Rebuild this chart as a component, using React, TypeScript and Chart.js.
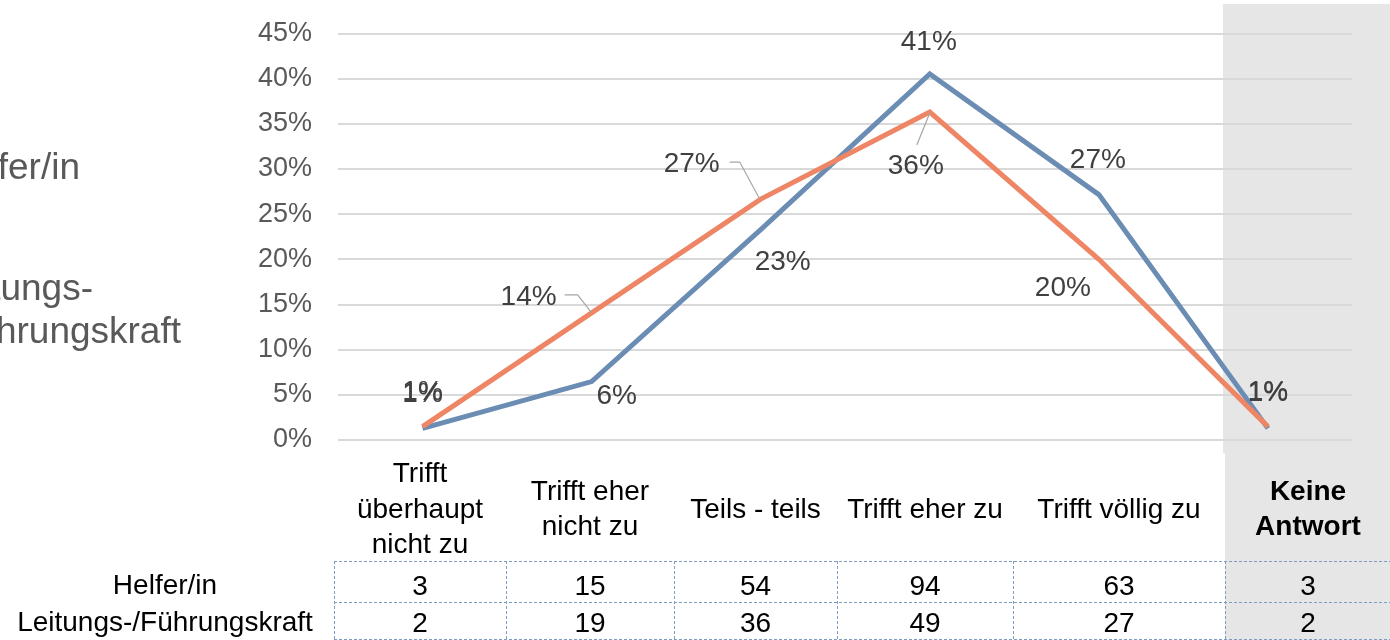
import React, { useEffect, useRef } from "react";
import { Chart, registerables } from "chart.js";

Chart.register(...registerables);

// ---------- data ----------
const categories: string[][] = [
  ["Trifft", "überhaupt", "nicht zu"],
  ["Trifft eher", "nicht zu"],
  ["Teils - teils"],
  ["Trifft eher zu"],
  ["Trifft völlig zu"],
  ["Keine", "Antwort"],
];
const seriesNames = ["Helfer/in", "Leitungs-/Führungskraft"];
const legendLines: string[][] = [["Helfer/in"], ["Leitungs-", "Führungskraft"]];
const helferPct = [1.29, 6.47, 23.28, 40.52, 27.16, 1.29];
const leitungPct = [1.48, 14.07, 26.67, 36.3, 20.0, 1.48];
const helferCount = [3, 15, 54, 94, 63, 3];
const leitungCount = [2, 19, 36, 49, 27, 2];
const yMin = 0;
const yMax = 45;
const yStep = 5;

// ---------- styles / layout ----------
const FONT = "'Liberation Sans', Arial, Helvetica, sans-serif";
const BLUE = "#6b8db4";
const ORANGE = "#ee8565";
const GREY_BAND = "#e6e6e6";
const W = 1390;
const H = 640;

// label offsets relative to the point (px)
const labelOffsets: number[][][] = [
  [[0, -34], [25, 15], [22, 33], [-1, -32], [-1, -34], [0, -35]],
  [[0, -34], [-63, -16], [-69, -35], [-14, 54], [-36, 29], [0, -34]],
];
// leader lines (relative polylines), null if none
const leaders: (number[][] | null)[][] = [
  [null, null, null, null, null, null],
  [null, [[-27, -18], [-14, -18], [0, 0]], [[-31, -37], [-21, -37], [-1, 0]], [[-13, 33], [0, 1]], null, null],
];

const tableCols = [334, 506, 674, 837, 1013, 1225, 1391];
const tableRows = [561, 602, 639];

const bandPlugin = {
  id: "band",
  beforeDraw(chart: any) {
    const ctx = chart.ctx;
    ctx.save();
    ctx.fillStyle = "#ffffff";
    ctx.fillRect(0, 0, W, H);
    ctx.fillStyle = GREY_BAND;
    ctx.fillRect(1223, 4, W - 1223, 449);
    ctx.fillRect(1225, 453, W - 1225, H - 453);
    ctx.restore();
  },
};

const labelPlugin = {
  id: "pctLabels",
  afterDatasetsDraw(chart: any) {
    const ctx = chart.ctx;
    ctx.save();
    chart.data.datasets.forEach((ds: any, di: number) => {
      const meta = chart.getDatasetMeta(di);
      meta.data.forEach((pt: any, i: number) => {
        const lead = leaders[di][i];
        if (lead) {
          ctx.beginPath();
          ctx.strokeStyle = "#a6a6a6";
          ctx.lineWidth = 1.2;
          lead.forEach((p, k) => {
            const px = pt.x + p[0];
            const py = pt.y + p[1];
            if (k === 0) ctx.moveTo(px, py);
            else ctx.lineTo(px, py);
          });
          ctx.stroke();
        }
        const off = labelOffsets[di][i];
        ctx.font = `28px ${FONT}`;
        ctx.fillStyle = "#404040";
        ctx.textAlign = "center";
        ctx.textBaseline = "middle";
        ctx.fillText(Math.round(ds.data[i]) + "%", pt.x + off[0], pt.y + off[1]);
      });
    });
    ctx.restore();
  },
};

const legendPlugin = {
  id: "cutLegend",
  afterDraw(chart: any) {
    const ctx = chart.ctx;
    ctx.save();
    ctx.font = `37px ${FONT}`;
    ctx.fillStyle = "#595959";
    ctx.textAlign = "right";
    ctx.textBaseline = "middle";
    ctx.fillText(legendLines[0][0], 80, 169);
    ctx.fillText(legendLines[1][0], 93, 290);
    ctx.fillText(legendLines[1][1], 181, 333);
    ctx.restore();
  },
};

const tablePlugin = {
  id: "dataTable",
  afterDraw(chart: any) {
    const ctx = chart.ctx;
    ctx.save();
    // header labels (category names)
    ctx.fillStyle = "#000000";
    ctx.textAlign = "center";
    ctx.textBaseline = "middle";
    const lh = 35.5;
    categories.forEach((lines, i) => {
      const cx = (tableCols[i] + tableCols[i + 1]) / 2;
      ctx.font = `${i === categories.length - 1 ? "bold " : ""}28px ${FONT}`;
      const y0 = 510 - ((lines.length - 1) * lh) / 2;
      lines.forEach((t, k) => ctx.fillText(t, cx, y0 + k * lh));
    });
    // grid
    ctx.strokeStyle = "#7f9cc3";
    ctx.lineWidth = 1;
    ctx.setLineDash([3, 2]);
    tableRows.forEach((y) => {
      ctx.beginPath();
      ctx.moveTo(tableCols[0], y + 0.5);
      ctx.lineTo(W, y + 0.5);
      ctx.stroke();
    });
    tableCols.forEach((x) => {
      ctx.beginPath();
      ctx.moveTo(x + 0.5, tableRows[0]);
      ctx.lineTo(x + 0.5, tableRows[tableRows.length - 1]);
      ctx.stroke();
    });
    ctx.setLineDash([]);
    // values
    ctx.font = `28px ${FONT}`;
    ctx.fillStyle = "#000000";
    const rowsY = [587, 624];
    [helferCount, leitungCount].forEach((row, r) => {
      row.forEach((v, i) => {
        const cx = (tableCols[i] + tableCols[i + 1]) / 2;
        ctx.fillText(String(v), cx, rowsY[r]);
      });
      ctx.fillText(seriesNames[r], 165, rowsY[r] - 1);
    });
    ctx.restore();
  },
};

export default function App() {
  const ref = useRef<HTMLCanvasElement | null>(null);
  useEffect(() => {
    if (!ref.current) return;
    const chart = new Chart(ref.current, {
      type: "line",
      data: {
        labels: categories,
        datasets: [
          {
            label: seriesNames[0],
            data: helferPct,
            borderColor: BLUE,
            backgroundColor: BLUE,
            borderWidth: 5,
            pointRadius: 0,
            tension: 0,
            borderJoinStyle: "miter",
            order: 2,
          },
          {
            label: seriesNames[1],
            data: leitungPct,
            borderColor: ORANGE,
            backgroundColor: ORANGE,
            borderWidth: 5,
            pointRadius: 0,
            tension: 0,
            borderJoinStyle: "miter",
            order: 1,
          },
        ],
      },
      options: {
        animation: false,
        responsive: false,
        maintainAspectRatio: false,
        layout: { padding: { top: 33.5, right: 37.5, left: 0, bottom: 0 } },
        plugins: {
          legend: { display: false },
          tooltip: { enabled: false },
        },
        scales: {
          x: {
            type: "category",
            offset: true,
            grid: { display: false, offset: true },
            border: { display: false },
            ticks: { display: false },
            afterFit: (s: any) => {
              s.height = 200;
              s.paddingLeft = 0;
              s.paddingRight = 0;
            },
          },
          y: {
            min: yMin,
            max: yMax,
            ticks: {
              stepSize: yStep,
              callback: (v: any) => v + "%",
              color: "#595959",
              font: { family: FONT, size: 27 },
              padding: 26,
            },
            grid: { color: "#d9d9d9", lineWidth: 2, drawTicks: false },
            border: { display: false },
            afterFit: (s: any) => {
              s.width = 338;
              s.paddingTop = 0;
              s.paddingBottom = 0;
            },
          },
        },
      },
      plugins: [bandPlugin, labelPlugin, legendPlugin, tablePlugin],
    } as any);
    return () => chart.destroy();
  }, []);
  return (
    <div style={{ position: "absolute", left: 0, top: 0, width: W, height: H }}>
      <canvas ref={ref} width={W} height={H} style={{ display: "block", width: W, height: H }} />
    </div>
  );
}
